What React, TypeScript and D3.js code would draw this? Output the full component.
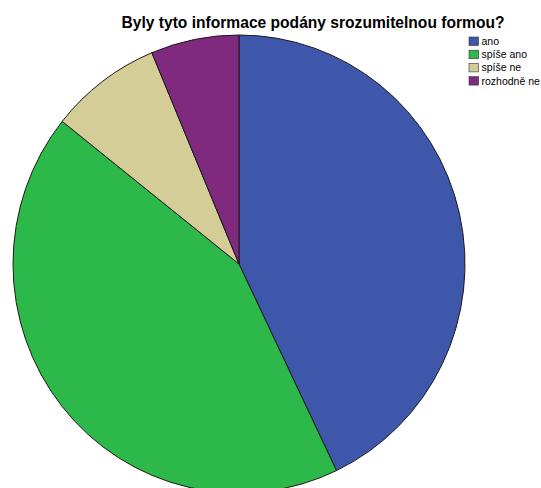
import React from "react";
import * as d3 from "d3";

const categories = ["ano", "spíše ano", "spíše ne", "rozhodně ne"];
const values = [42.9, 42.8, 8.0, 6.3];
const colors = ["#3f57ab", "#2db84a", "#d5cd97", "#7f2a7e"];
const title = "Byly tyto informace podány srozumitelnou formou?";

export default function App() {
  const W = 541, H = 488;
  const cx = 239, cy = 264, rx = 226, ry = 229;
  const pie = d3.pie<number>().sort(null).value((d) => d)(values);
  const arc = d3.arc<d3.PieArcDatum<number>>().innerRadius(0).outerRadius(rx);
  return (
    <svg width={W} height={H} style={{ position: "absolute", left: 0, top: 0, background: "#fff" }}>
      <text x={313} y={28} textAnchor="middle" fontFamily="Liberation Sans, Arial, sans-serif" fontWeight="bold" fontSize={15.6} fill="#000">{title}</text>
      <g transform={`translate(${cx},${cy}) scale(1,${ry / rx})`}>
        {pie.map((p, i) => (
          <path key={i} d={arc(p) || ""} fill={colors[i]} stroke="#1a1a1a" strokeWidth={1} strokeLinejoin="round" vectorEffect="non-scaling-stroke" />
        ))}
      </g>
      <g transform="translate(469,37)">
        {categories.map((c, i) => (
          <g key={c} transform={`translate(0,${i * 13.2})`}>
            <rect x={0} y={0} width={9.5} height={8.5} fill={colors[i]} stroke="#333" strokeWidth={0.6} />
            <text x={12.5} y={8} fontFamily="Liberation Sans, Arial, sans-serif" fontSize={10.5} fill="#000">{c}</text>
          </g>
        ))}
      </g>
    </svg>
  );
}
